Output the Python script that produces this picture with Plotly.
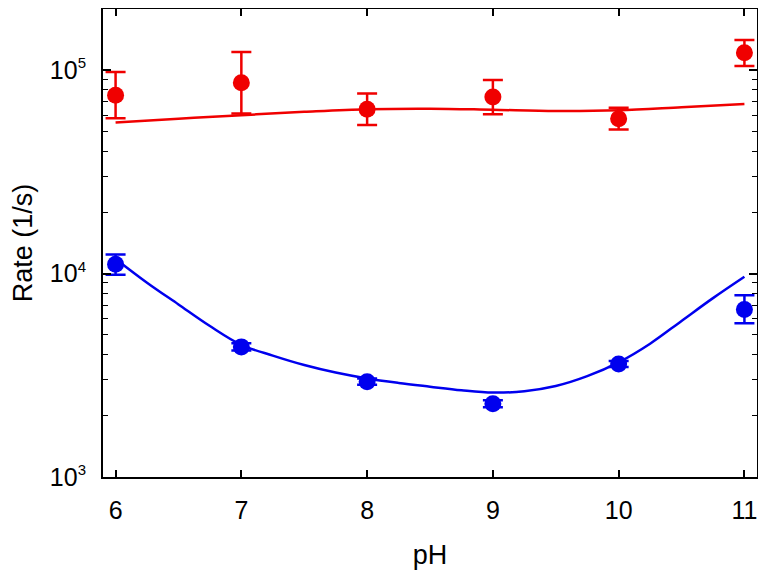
import plotly.graph_objects as go

# Data
ph = [6, 7, 8, 9, 10, 11]

red_rate = [75100, 86600, 64200, 73800, 57700, 121600]
red_err_plus = [22700, 35900, 12400, 15600, 7600, 18700]
red_err_minus = [17100, 25500, 10500, 13100, 6700, 17000]

blue_rate = [11100, 4360, 2940, 2290, 3590, 6650]
blue_err_plus = [1300, 180, 110, 90, 130, 1180]
blue_err_minus = [1240, 170, 100, 90, 120, 960]

red_fit_ph = [6, 6.5, 7, 7.5, 8, 8.5, 9, 9.5, 10, 10.5, 11]
red_fit = [55200, 57700, 60000, 62300, 64200, 64600, 63800, 62900, 63400, 65600, 68000]

blue_fit_ph = [6, 6.25, 6.5, 6.75, 7, 7.25, 7.5, 7.75, 8, 8.25, 8.5, 8.75,
               9, 9.25, 9.5, 9.75, 10, 10.25, 10.5, 10.75, 11]
blue_fit = [11800, 9020, 7050, 5520, 4460, 3950, 3550, 3260, 3050, 2900, 2780, 2670,
            2600, 2640, 2800, 3130, 3660, 4520, 5850, 7570, 9640]

y_tickvals = [1e3, 1e4, 1e5]
y_ticktext = ["10<sup><span style='font-size:15px'>3</span></sup>",
              "10<sup><span style='font-size:15px'>4</span></sup>",
              "10<sup><span style='font-size:15px'>5</span></sup>"]
x_tickvals = [6, 7, 8, 9, 10, 11]

RED = "#f00000"
BLUE = "#0000ee"

fig = go.Figure()

fig.add_trace(go.Scatter(x=red_fit_ph, y=red_fit, mode="lines",
                         line=dict(color=RED, width=2.5, shape="spline"),
                         showlegend=False, hoverinfo="skip"))
fig.add_trace(go.Scatter(x=blue_fit_ph, y=blue_fit, mode="lines",
                         line=dict(color=BLUE, width=2.5, shape="spline"),
                         showlegend=False, hoverinfo="skip"))

fig.add_trace(go.Scatter(x=ph, y=red_rate, mode="markers",
                         marker=dict(color=RED, size=17),
                         error_y=dict(type="data", symmetric=False,
                                      array=red_err_plus, arrayminus=red_err_minus,
                                      color=RED, thickness=2.5, width=10),
                         showlegend=False))
fig.add_trace(go.Scatter(x=ph, y=blue_rate, mode="markers",
                         marker=dict(color=BLUE, size=17),
                         error_y=dict(type="data", symmetric=False,
                                      array=blue_err_plus, arrayminus=blue_err_minus,
                                      color=BLUE, thickness=2.5, width=10),
                         showlegend=False))

# page body has an 8px default margin; figure is sized to fit inside it
fig.update_layout(
    width=750, height=562,
    margin=dict(l=95, r=1, t=1, b=93),
    plot_bgcolor="white", paper_bgcolor="white",
    font=dict(family="Liberation Sans, Arial, sans-serif", color="black", size=25),
    xaxis=dict(
        range=[5.9, 11.1], tickvals=x_tickvals,
        ticks="inside", ticklen=7, tickwidth=1.5, tickcolor="black",
        showline=True, linecolor="black", linewidth=2, mirror="ticks",
        showgrid=False, zeroline=False, automargin=False,
        ticklabelstandoff=10,
        title=dict(text="pH", font=dict(size=27), standoff=29),
        tickfont=dict(size=25),
    ),
    yaxis=dict(
        type="log", range=[3, 5.3],
        tickvals=y_tickvals, ticktext=y_ticktext,
        ticks="inside", ticklen=8, tickwidth=1.5, tickcolor="black",
        minor=dict(ticks="inside", ticklen=5, tickwidth=1.2, tickcolor="black",
                   dtick="D1", showgrid=False),
        showline=True, linecolor="black", linewidth=2, mirror="allticks",
        showgrid=False, zeroline=False, automargin=False,
        ticklabelstandoff=10,
        title=dict(text="Rate (1/s)", font=dict(size=27), standoff=16),
        tickfont=dict(size=25),
    ),
)

fig.write_html("out.html")
